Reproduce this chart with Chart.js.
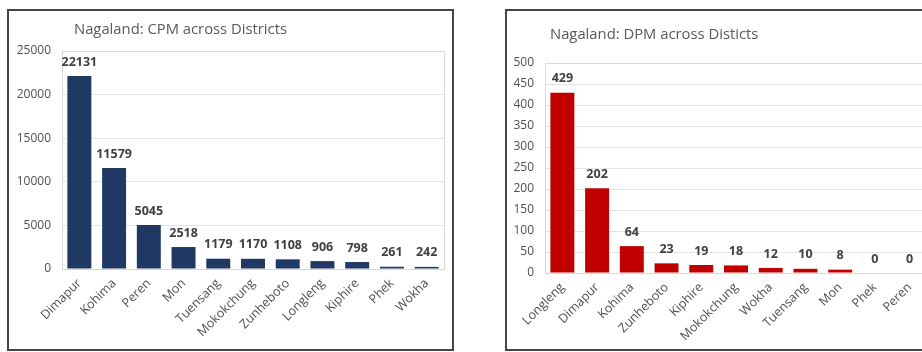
<!DOCTYPE html>
<html>
<head>
<meta charset="utf-8">
<script src="https://cdn.jsdelivr.net/npm/chart.js@4.4.1/dist/chart.umd.min.js"></script>
<style>
  html, body { margin: 0; padding: 0; background: #fff; }
  body { width: 922px; height: 352px; overflow: hidden; position: relative; font-family: "Open Sans", sans-serif; }
  .panel { position: absolute; box-sizing: border-box; border: 2px solid #444; background: #fff; }
  #p1 { left: 7px; top: 9px; width: 447px; height: 342px; }
  #p2 { left: 505px; top: 9px; width: 440px; height: 342px; }
  .panel canvas { position: absolute; left: 0; top: 0; }
  .title { position: absolute; color: #595959; font-size: 14.8px; line-height: 20px; white-space: nowrap; }
</style>
</head>
<body>
<div class="panel" id="p1"><canvas id="cpm" width="443" height="338"></canvas></div>
<div class="panel" id="p2"><canvas id="dpm" width="436" height="338"></canvas></div>
<div class="title" style="left:74px; top:18px;">Nagaland: CPM across Districts</div>
<div class="title" style="left:550px; top:23px;">Nagaland: DPM across Disticts</div>
<script>
// CPM by district
const cpmDistricts = ['Dimapur', 'Kohima', 'Peren', 'Mon', 'Tuensang', 'Mokokchung', 'Zunheboto', 'Longleng', 'Kiphire', 'Phek', 'Wokha'];
const cpmValues = [22131, 11579, 5045, 2518, 1179, 1170, 1108, 906, 798, 261, 242];
const cpmTicks = { max: 25000, step: 5000 };

// DPM by district
const dpmDistricts = ['Longleng', 'Dimapur', 'Kohima', 'Zunheboto', 'Kiphire', 'Mokokchung', 'Wokha', 'Tuensang', 'Mon', 'Phek', 'Peren'];
const dpmValues = [429, 202, 64, 23, 19, 18, 12, 10, 8, 0, 0];
const dpmTicks = { max: 500, step: 50 };

const TEXT = '#505050';
const GRID = '#e3e3e3';

// Value labels above each bar
const barLabels = {
  id: 'barLabels',
  afterDatasetsDraw(chart) {
    const ctx = chart.ctx;
    const meta = chart.getDatasetMeta(0);
    const data = chart.data.datasets[0].data;
    ctx.save();
    ctx.font = 'bold 12.5px "Open Sans"';
    ctx.fillStyle = '#404040';
    ctx.textAlign = 'center';
    ctx.textBaseline = 'middle';
    meta.data.forEach((bar, i) => ctx.fillText(String(data[i]), bar.x, bar.y - 14));
    ctx.restore();
  }
};

// Light frame around the plot area
const plotFrame = {
  id: 'plotFrame',
  beforeDatasetsDraw(chart) {
    const a = chart.chartArea;
    const ctx = chart.ctx;
    ctx.save();
    ctx.strokeStyle = '#d9d9d9';
    ctx.lineWidth = 1;
    ctx.strokeRect(Math.round(a.left) + 0.5, Math.round(a.top) + 0.5, Math.round(a.right - a.left), Math.round(a.bottom - a.top));
    ctx.restore();
  }
};

function makeChart(id, labels, values, ticks, color, box) {
  return new Chart(document.getElementById(id), {
    type: 'bar',
    data: {
      labels: labels,
      datasets: [{
        data: values,
        backgroundColor: color,
        borderWidth: 0,
        categoryPercentage: 1,
        barPercentage: 0.69
      }]
    },
    options: {
      responsive: false,
      animation: false,
      events: [],
      layout: { padding: { top: box.top, right: box.right, left: 0, bottom: 0 } },
      plugins: { legend: { display: false }, title: { display: false }, tooltip: { enabled: false } },
      scales: {
        x: {
          grid: { display: false, drawTicks: false },
          border: { display: false },
          ticks: {
            color: TEXT,
            font: { family: 'Open Sans', size: 12.5 },
            minRotation: 45,
            maxRotation: 45,
            autoSkip: false,
            padding: 7
          },
          afterFit(scale) { scale.height = box.xHeight; }
        },
        y: {
          min: 0,
          max: ticks.max,
          grid: { color: GRID, drawTicks: false },
          border: { display: false },
          ticks: {
            stepSize: ticks.step,
            color: TEXT,
            font: { family: 'Open Sans', size: 12 },
            padding: 11,
            callback: (v) => String(v)
          },
          afterFit(scale) { scale.width = box.yWidth; }
        }
      }
    },
    plugins: [plotFrame, barLabels]
  });
}

makeChart('cpm', cpmDistricts, cpmValues, cpmTicks, '#1f3864',
  { top: 40, right: 8, yWidth: 53, xHeight: 80 });
makeChart('dpm', dpmDistricts, dpmValues, dpmTicks, '#c00000',
  { top: 52, right: 16, yWidth: 38, xHeight: 76 });
</script>
</body>
</html>
